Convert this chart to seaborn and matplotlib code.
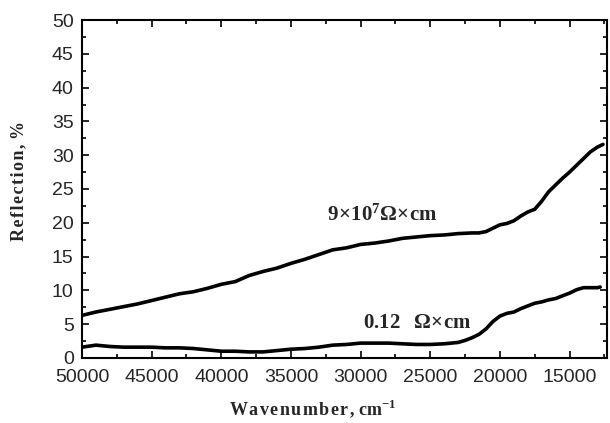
import pandas as pd
import seaborn as sns
import matplotlib.pyplot as plt

# values
wn_high = [50000, 49000, 48000, 47000, 46000, 45000, 44000, 43000, 42000, 41000,
           40000, 39000, 38000, 37000, 36000, 35000, 34000, 33000, 32000, 31000,
           30000, 29000, 28000, 27000, 26000, 25000, 24000, 23000, 22000, 21500,
           21000, 20500, 20000, 19500, 19000, 18500, 18000, 17500, 17000, 16500,
           16000, 15500, 15000, 14500, 14000, 13500, 13000, 12600]
refl_high = [6.3, 6.8, 7.2, 7.6, 8.0, 8.5, 9.0, 9.5, 9.8, 10.3,
             10.9, 11.3, 12.2, 12.8, 13.3, 14.0, 14.6, 15.3, 16.0, 16.3,
             16.8, 17.0, 17.3, 17.7, 17.9, 18.1, 18.2, 18.4, 18.5, 18.5,
             18.7, 19.2, 19.7, 19.9, 20.3, 21.0, 21.6, 22.0, 23.2, 24.6,
             25.6, 26.6, 27.5, 28.5, 29.5, 30.5, 31.2, 31.6]

wn_low = [50000, 49000, 48000, 47000, 46000, 45000, 44000, 43000, 42000, 41000,
          40000, 39000, 38000, 37000, 36000, 35000, 34000, 33000, 32000, 31000,
          30000, 29000, 28000, 27000, 26000, 25000, 24000, 23000, 22500, 22000,
          21500, 21000, 20500, 20000, 19500, 19000, 18500, 18000, 17500, 17000,
          16500, 16000, 15500, 15000, 14500, 14000, 13500, 13000, 12800]
refl_low = [1.6, 1.9, 1.7, 1.6, 1.6, 1.6, 1.5, 1.5, 1.4, 1.2,
            1.0, 1.0, 0.9, 0.9, 1.1, 1.3, 1.4, 1.6, 1.9, 2.0,
            2.2, 2.2, 2.2, 2.1, 2.0, 2.0, 2.1, 2.3, 2.6, 3.0,
            3.5, 4.3, 5.4, 6.2, 6.6, 6.8, 7.3, 7.7, 8.1, 8.3,
            8.6, 8.8, 9.2, 9.6, 10.1, 10.4, 10.4, 10.4, 10.5]

df = pd.concat([
    pd.DataFrame({'wn': wn_high, 'refl': refl_high, 'sample': 'high'}),
    pd.DataFrame({'wn': wn_low, 'refl': refl_low, 'sample': 'low'}),
])

sns.set_style('ticks')
plt.rcParams['mathtext.fontset'] = 'custom'
plt.rcParams['mathtext.rm'] = 'Liberation Serif'
plt.rcParams['mathtext.bf'] = 'Liberation Serif:bold'

fig = plt.figure(figsize=(6.1, 4.23), dpi=100)
ax = fig.add_axes([0.1344, 0.1537, 0.861, 0.799])

sns.lineplot(data=df, x='wn', y='refl', units='sample', estimator=None,
             color='black', linewidth=2.6, sort=False, ax=ax)

ax.set_xlim(50000, 12300)
ax.set_ylim(0, 50)
ax.set_xticks([50000, 45000, 40000, 35000, 30000, 25000, 20000, 15000])
ax.set_xticks([47500, 42500, 37500, 32500, 27500, 22500, 17500, 12500], minor=True)
ax.set_yticks(range(0, 51, 5))
ax.set_yticks([x + 2.5 for x in range(0, 50, 5)], minor=True)
ax.tick_params(which='both', direction='in', top=True, right=True, width=1.2, color='black')
ax.tick_params(which='major', length=5, labelsize=14)
ax.tick_params(axis='x', which='major', pad=8)
ax.tick_params(axis='y', which='major', pad=6)
ax.tick_params(which='minor', length=3)
for lab in ax.get_xticklabels() + ax.get_yticklabels():
    lab.set_family('Liberation Sans')
for s in ax.spines.values():
    s.set_linewidth(1.5)
    s.set_color('black')

ax.set_xlabel('')
ax.set_ylabel('')
hs = '\u200a'
fig.text(0.512, 0.035, hs.join('Wavenumber,') + ' cm$^{\\mathbf{-1}}$', ha='center', va='center',
         fontsize=13, fontweight='bold', family=['Liberation Serif', 'DejaVu Serif'])
fig.text(0.03, 0.572, hs.join('Reflection,') + ' %', rotation=90, ha='center', va='center',
         fontsize=13, fontweight='bold', family=['Liberation Serif', 'DejaVu Serif'])

ax.text(32400, 21.2, r'$\mathbf{9\!\times\!10^{7}\Omega\!\times\! cm}$', fontsize=15,
        va='center')
ax.text(29800, 5.3, r'$\mathbf{0.12\ \ \Omega\!\times\! cm}$', fontsize=15,
        va='center')

plt.savefig('out.png', dpi=100)
